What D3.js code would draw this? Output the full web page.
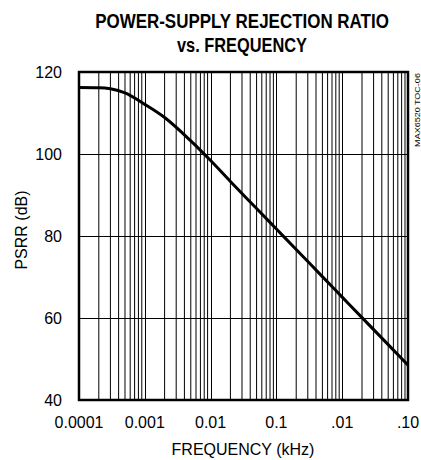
<!DOCTYPE html>
<html><head><meta charset="utf-8">
<script src="https://cdn.jsdelivr.net/npm/d3@7/dist/d3.min.js"></script>
<style>
html,body{margin:0;padding:0;background:#fff;}
svg{display:block;}
text{font-family:"Liberation Sans",Arial,sans-serif;fill:#000;}
</style></head>
<body>
<script>
const freqKHz = [0.0001, 0.0002, 0.0003, 0.0005, 0.001, 0.002, 0.005, 0.01, 0.02, 0.05, 0.1, 0.2, 0.5, 1, 2, 5, 10];
const psrrDB  = [116.2, 116.15, 115.9, 114.9, 112.1, 108.9, 103.2, 98.4, 93.3, 86.7, 81.7, 76.7, 70.1, 65.1, 60.1, 53.5, 48.5];
const xTickValues = [0.0001, 0.001, 0.01, 0.1, 1, 10];
const xTickLabels = ["0.0001", "0.001", "0.01", "0.1", ".01", ".10"];
const yTickValues = [40, 60, 80, 100, 120];
const titleLines = ["POWER-SUPPLY REJECTION RATIO", "vs. FREQUENCY"];

const W = 421, H = 460;
const m = {left: 79, right: 13, top: 72, bottom: 60};
const svg = d3.select("body").append("svg").attr("width", W).attr("height", H);

const x = d3.scaleLog().domain([0.0001, 10]).range([m.left, W - m.right]);
const y = d3.scaleLinear().domain([40, 120]).range([H - m.bottom, m.top]);

// minor vertical grid
const minor = [];
for (let e = -4; e < 1; e++) for (let k = 2; k <= 9; k++) minor.push(k * Math.pow(10, e));
svg.append("g").selectAll("line").data(minor).join("line")
  .attr("x1", d => x(d)).attr("x2", d => x(d))
  .attr("y1", y(40)).attr("y2", y(120))
  .attr("stroke", "#000").attr("stroke-width", 1);
// major vertical grid
svg.append("g").selectAll("line").data(xTickValues).join("line")
  .attr("x1", d => Math.round(x(d)) + 0.5).attr("x2", d => Math.round(x(d)) + 0.5)
  .attr("y1", y(40)).attr("y2", y(120))
  .attr("stroke", "#000").attr("stroke-width", 1);
// horizontal grid
svg.append("g").selectAll("line").data(yTickValues.slice(1, -1)).join("line")
  .attr("x1", x(0.0001)).attr("x2", x(10))
  .attr("y1", d => Math.round(y(d)) + 0.5).attr("y2", d => Math.round(y(d)) + 0.5)
  .attr("stroke", "#000").attr("stroke-width", 1);

// curve
const line = d3.line().x((d, i) => x(freqKHz[i])).y(d => y(d)).curve(d3.curveMonotoneX);
svg.append("path").datum(psrrDB).attr("d", line)
  .attr("fill", "none").attr("stroke", "#000").attr("stroke-width", 3)
  .attr("stroke-linejoin", "round");

// frame
svg.append("rect").attr("x", x(0.0001)).attr("y", y(120))
  .attr("width", x(10) - x(0.0001)).attr("height", y(40) - y(120))
  .attr("fill", "none").attr("stroke", "#000").attr("stroke-width", 2.5);

// y tick labels
svg.append("g").selectAll("text").data(yTickValues).join("text")
  .attr("x", 62).attr("y", d => y(d)).attr("dy", "0.36em")
  .attr("text-anchor", "end").attr("font-size", 16).text(d => d);

// x tick labels
svg.append("g").selectAll("text").data(xTickValues).join("text")
  .attr("x", d => x(d)).attr("y", 428)
  .attr("text-anchor", "middle").attr("font-size", 16).text((d, i) => xTickLabels[i]);

// axis titles
svg.append("text").attr("x", 243).attr("y", 455).attr("text-anchor", "middle")
  .attr("font-size", 16).text("FREQUENCY (kHz)");
svg.append("text").attr("transform", "translate(27,230) rotate(-90)")
  .attr("text-anchor", "middle").attr("font-size", 16).text("PSRR (dB)");

// title (condensed by horizontal scaling)
const titleWidths = [294, 130], titleY = [28, 52], titleCX = 242;
titleLines.forEach((t, i) => {
  const g = svg.append("g");
  const tx = g.append("text").attr("x", 0).attr("y", 0)
    .attr("text-anchor", "middle").attr("font-size", 20).attr("font-weight", "bold").text(t);
  const w = tx.node().getComputedTextLength();
  g.attr("transform", `translate(${titleCX},${titleY[i]}) scale(${titleWidths[i] / w},1)`);
});

// side note
const note = svg.append("g");
const nt = note.append("text").attr("x", 0).attr("y", 0)
  .attr("text-anchor", "middle").attr("font-size", 8.5).text("MAX6520 TOC-06");
const nw = nt.node().getComputedTextLength();
note.attr("transform", `translate(419.5,110) rotate(-90) scale(${74 / nw},0.85)`);
</script>
</body></html>
